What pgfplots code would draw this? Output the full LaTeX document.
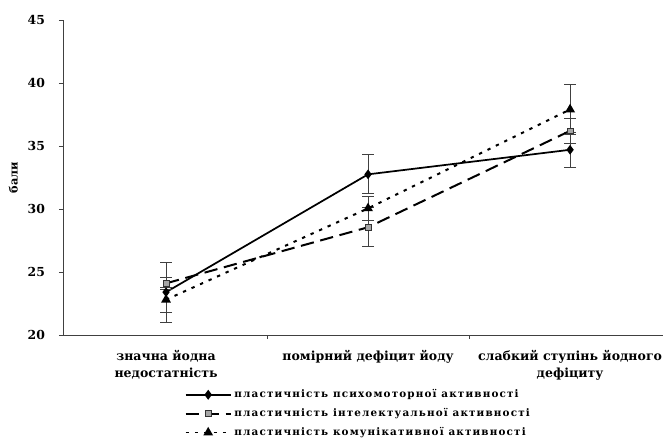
\documentclass[border=0pt]{standalone}
\usepackage{fontspec}
\setmainfont{DejaVu Serif}
\usepackage{pgfplots}
\pgfplotsset{compat=1.18}

\begin{document}
\begin{tikzpicture}
\begin{axis}[
  scale only axis,
  width=450pt, height=236.25pt,
  xmin=-0.51, xmax=2.46,
  ymin=20, ymax=45,
  axis x line=bottom, axis y line=left,
  axis line style={-, line width=0.7pt, black!75},
  tick align=outside,
  tick style={line width=0.7pt, black!75},
  major tick length=3pt,
  ytick={20,25,30,35,40,45},
  yticklabel style={font=\bfseries\fontsize{9.3}{11}\selectfont, xshift=-7pt},
  /pgf/number format/assume math mode=true,
  xtick={0.5,1.5},
  xticklabels={},
  extra x ticks={0,1,2},
  extra x tick labels={значна йодна\\недостатність, помірний дефіцит йоду, слабкий ступінь йодного\\дефіциту},
  extra x tick style={major tick length=0pt, tick label style={align=center, font=\bfseries\fontsize{9.4}{12.75}\selectfont, yshift=-8pt}},
  ylabel={бали},
  ylabel style={font=\bfseries\fontsize{8.5}{10}\selectfont, at={(axis description cs:-0.083,0.5)}, anchor=center},
  legend style={at={(0.2,-0.16)}, anchor=north west, draw=none, fill=none,
    font=\bfseries\fontsize{7.8}{9}\selectfont\addfontfeatures{LetterSpace=11}, row sep=2.5pt, inner sep=1pt},
  legend cell align=left,
  legend image code/.code={
    \draw[mark repeat=2, mark phase=2, line width=1.4pt, #1] plot coordinates {(0pt,0pt) (17pt,0pt) (34pt,0pt)};
  },
  every axis plot/.append style={
    error bars/y dir=both, error bars/y explicit,
    error bars/error bar style={line width=0.6pt, black!75, solid},
    error bars/error mark options={rotate=90, mark size=4.5pt, line width=0.6pt, black!75, solid},
  },
]
% psychomotor activity
\addplot[black, line width=1.3pt, mark=diamond*, mark size=2.6pt, mark options={solid, fill=black}]
  coordinates {(0,23.4) +- (0,2.4) (1,32.75) +- (0,1.55) (2,34.7) +- (0,1.4)};
\addlegendentry{пластичність психомоторної активності}
% intellectual activity
\addplot[black, line width=1.5pt, dash pattern=on 10pt off 5pt, mark=square*, mark size=2.2pt, mark options={solid, fill=gray!70, draw=black!80, line width=0.5pt}]
  coordinates {(0,24.1) +- (0,0.5) (1,28.55) +- (0,1.55) (2,36.2) +- (0,1.0)};
\addlegendentry{пластичність інтелектуальної активності}
% communicative activity
\addplot[black, line width=1.5pt, dash pattern=on 2.5pt off 4.5pt, mark=triangle*, mark size=2.8pt, mark options={solid, fill=black}]
  coordinates {(0,22.8) +- (0,1.0) (1,30.05) +- (0,0.95) (2,37.9) +- (0,1.95)};
\addlegendentry{пластичність комунікативної активності}
\end{axis}
\pgfresetboundingbox
\path[use as bounding box] (-47.25pt,-77.25pt) rectangle (450pt,251.25pt);
\end{tikzpicture}
\end{document}
